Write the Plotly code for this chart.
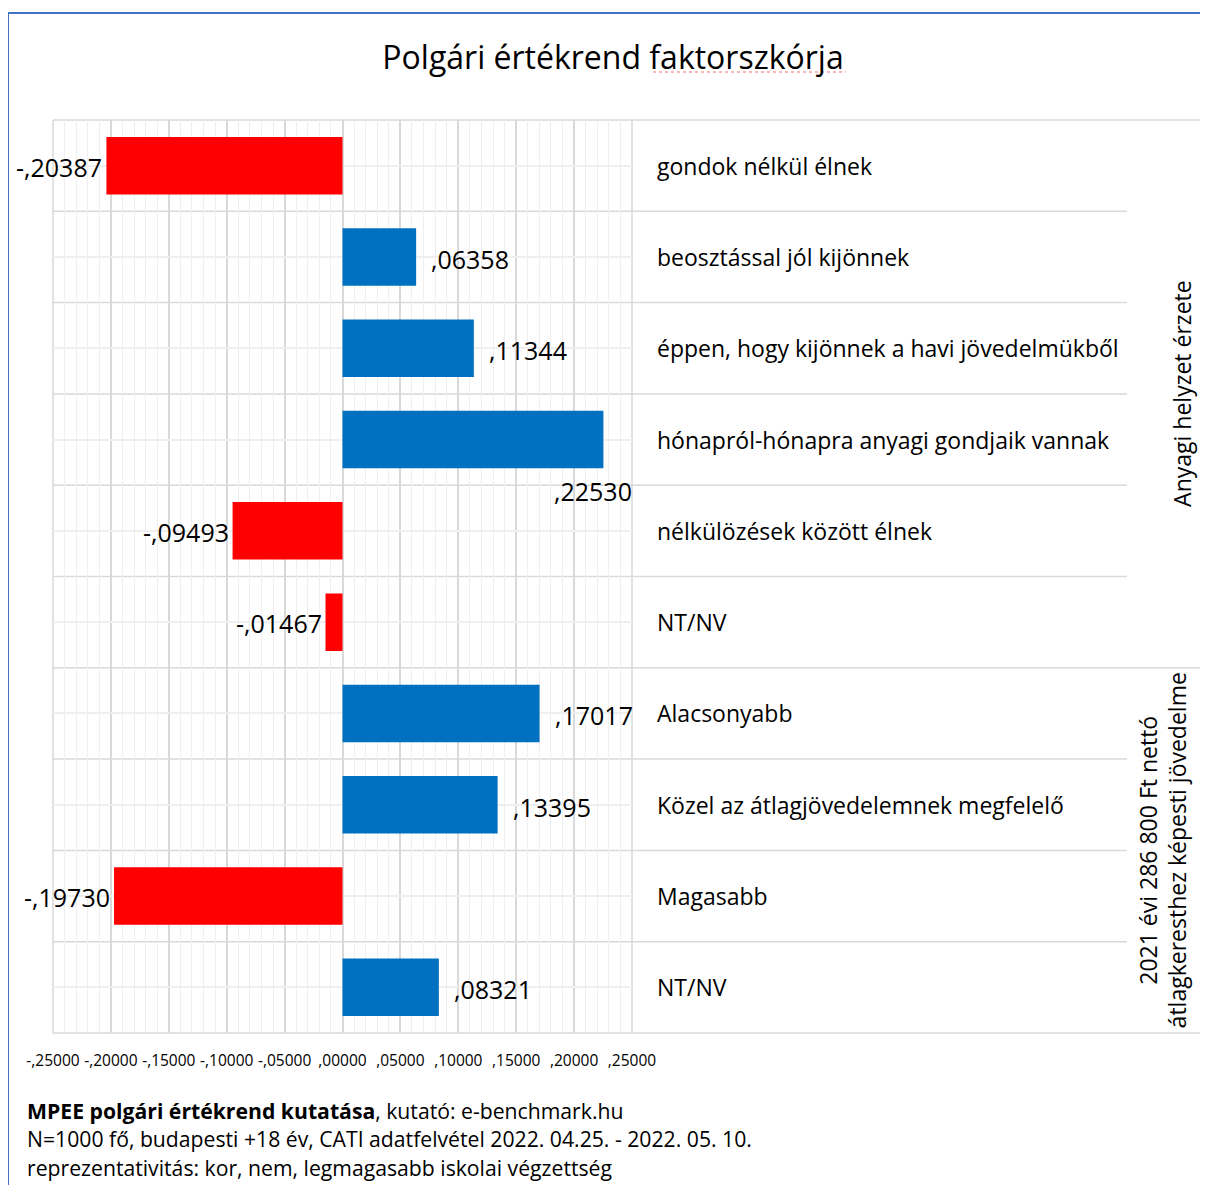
import plotly.graph_objects as go

# faktorszkórok kategóriánként
categories = ["gondok nélkül élnek", "beosztással jól kijönnek",
              "éppen, hogy kijönnek a havi jövedelmükből",
              "hónapról-hónapra anyagi gondjaik vannak",
              "nélkülözések között élnek", "NT/NV",
              "Alacsonyabb", "Közel az átlagjövedelemnek megfelelő",
              "Magasabb", "NT/NV"]
values = [-0.20387, 0.06358, 0.11344, 0.22530, -0.09493, -0.01467,
          0.17017, 0.13395, -0.19730, 0.08321]
group_names = ["Anyagi helyzet érzete",
               "2021 évi 286 800 Ft nettó<br>átlagkeresthez képesti jövedelme"]
group_sizes = [6, 4]
tick_vals = [-0.25, -0.20, -0.15, -0.10, -0.05, 0.0, 0.05, 0.10, 0.15, 0.20, 0.25]
tick_text = ["-,25000", "-,20000", "-,15000", "-,10000", "-,05000", ",00000",
             ",05000", ",10000", ",15000", ",20000", ",25000"]
title = "Polgári értékrend faktorszkórja"
footer = ["<b>MPEE polgári értékrend kutatása</b>, kutató: e-benchmark.hu",
          "N=1000 fő, budapesti +18 év, CATI adatfelvétel 2022. 04.25. - 2022. 05. 10.",
          "reprezentativitás: kor, nem, legmagasabb iskolai végzettség"]

FONT = "Open Sans"
PAGE_W, PAGE_H = 1208, 1185
OFF = 8                       # body margin of the html page
W, H = PAGE_W - OFF, PAGE_H - OFF
L, R, T, B = 53, 632, 120, 1033   # plot area in page pixels


def px(x):
    return (x - L) / (R - L)


def py(y):
    return (B - y) / (B - T)


def fmt(v):
    s = f"{abs(v):.5f}"[1:].replace(".", ",")
    return ("-" if v < 0 else "") + s


n = len(categories)
ypos = list(range(n))
colors = ["#FF0000" if v < 0 else "#0070C0" for v in values]

fig = go.Figure()
fig.add_trace(go.Bar(x=values, y=ypos, orientation="h", marker_color=colors,
                     marker_line_width=0, width=0.63, hoverinfo="skip"))

ann = []
for i, v in enumerate(values):
    if v < 0:
        ann.append(dict(x=v, y=i, xref="x", yref="y", text=fmt(v), showarrow=False,
                        xanchor="right", xshift=-2, yshift=-1))
    elif v > 0.18:
        # no room at the end of the bar -> below the bar, right aligned
        ann.append(dict(x=0.25, y=i + 0.56, xref="x", yref="y", text=fmt(v), showarrow=False,
                        xanchor="right", xshift=2))
    else:
        ann.append(dict(x=v, y=i, xref="x", yref="y", text=fmt(v), showarrow=False,
                        xanchor="left", xshift=13, yshift=-2))
for a in ann:
    a["font"] = dict(family=FONT, size=25, color="black")

for i, c in enumerate(categories):
    ann.append(dict(x=px(655), y=i, xref="paper", yref="y", text=c, showarrow=False,
                    xanchor="left", font=dict(family=FONT, size=23, color="black")))

start = 0
for g, size in zip(group_names, group_sizes):
    ann.append(dict(x=px(1163 if "<br>" in g else 1182), y=start + (size - 1) / 2,
                    xref="paper", yref="y", text=g, showarrow=False, textangle=-90,
                    xanchor="center", yanchor="middle",
                    font=dict(family=FONT, size=23, color="black")))
    start += size

for k, line in enumerate(footer):
    ann.append(dict(x=px(25), y=py(1110 + 28.5 * k), xref="paper", yref="paper", text=line,
                    showarrow=False, xanchor="left", yanchor="middle",
                    font=dict(family=FONT, size=21.2, color="black")))

# table lines (category boundaries)
shapes = []
group_edges = [0]
for s in group_sizes:
    group_edges.append(group_edges[-1] + s)
for k in range(n + 1):
    x1 = px(PAGE_W + 5) if k in group_edges else px(1127)
    shapes.append(dict(type="line", xref="paper", yref="paper", x0=0, x1=x1,
                       y0=1 - k / n, y1=1 - k / n, line=dict(color="#D9D9D9", width=1.5),
                       layer="below"))
# left / right edges of the value area
for xe in (0, 1):
    shapes.append(dict(type="line", xref="paper", yref="paper", x0=xe, x1=xe, y0=0, y1=1,
                       line=dict(color="#D9D9D9", width=1.5), layer="below"))
# outer blue frame
shapes.append(dict(type="line", xref="paper", yref="paper", x0=px(8), x1=px(8),
                   y0=py(PAGE_H + 10), y1=py(13), line=dict(color="#4472C4", width=2)))
shapes.append(dict(type="line", xref="paper", yref="paper", x0=px(8), x1=px(PAGE_W + 10),
                   y0=py(13), y1=py(13), line=dict(color="#4472C4", width=2)))
# spell-check underline under the title word
shapes.append(dict(type="line", xref="paper", yref="paper", x0=px(653), x1=px(846),
                   y0=py(72), y1=py(72), line=dict(color="#F07070", width=1, dash="dot")))

fig.update_layout(
    width=W, height=H,
    margin=dict(l=L - OFF, r=W - (R - OFF), t=T - OFF, b=H - (B - OFF)),
    paper_bgcolor="white", plot_bgcolor="white",
    showlegend=False,
    title=dict(text=title, x=(613 - OFF) / W, y=1 - (58 - OFF) / H,
               xanchor="center", yanchor="middle",
               font=dict(family=FONT, size=32, color="black")),
    xaxis=dict(range=[-0.25, 0.25], tickvals=tick_vals, ticktext=tick_text,
               showgrid=True, gridcolor="#D9D9D9", gridwidth=1.5,
               zeroline=True, zerolinecolor="#D9D9D9", zerolinewidth=1.5,
               minor=dict(dtick=0.01, showgrid=True, gridcolor="#EFEFEF", gridwidth=1),
               ticks="", ticklabelstandoff=16, tickangle=0,
               tickfont=dict(family=FONT, size=15.5, color="black")),
    yaxis=dict(range=[n - 0.5, -0.5], tickvals=ypos, showticklabels=False,
               showgrid=True, gridcolor="#EFEFEF", gridwidth=1.5, zeroline=False),
    annotations=ann,
    shapes=shapes,
)

fig.write_html("out.html")
